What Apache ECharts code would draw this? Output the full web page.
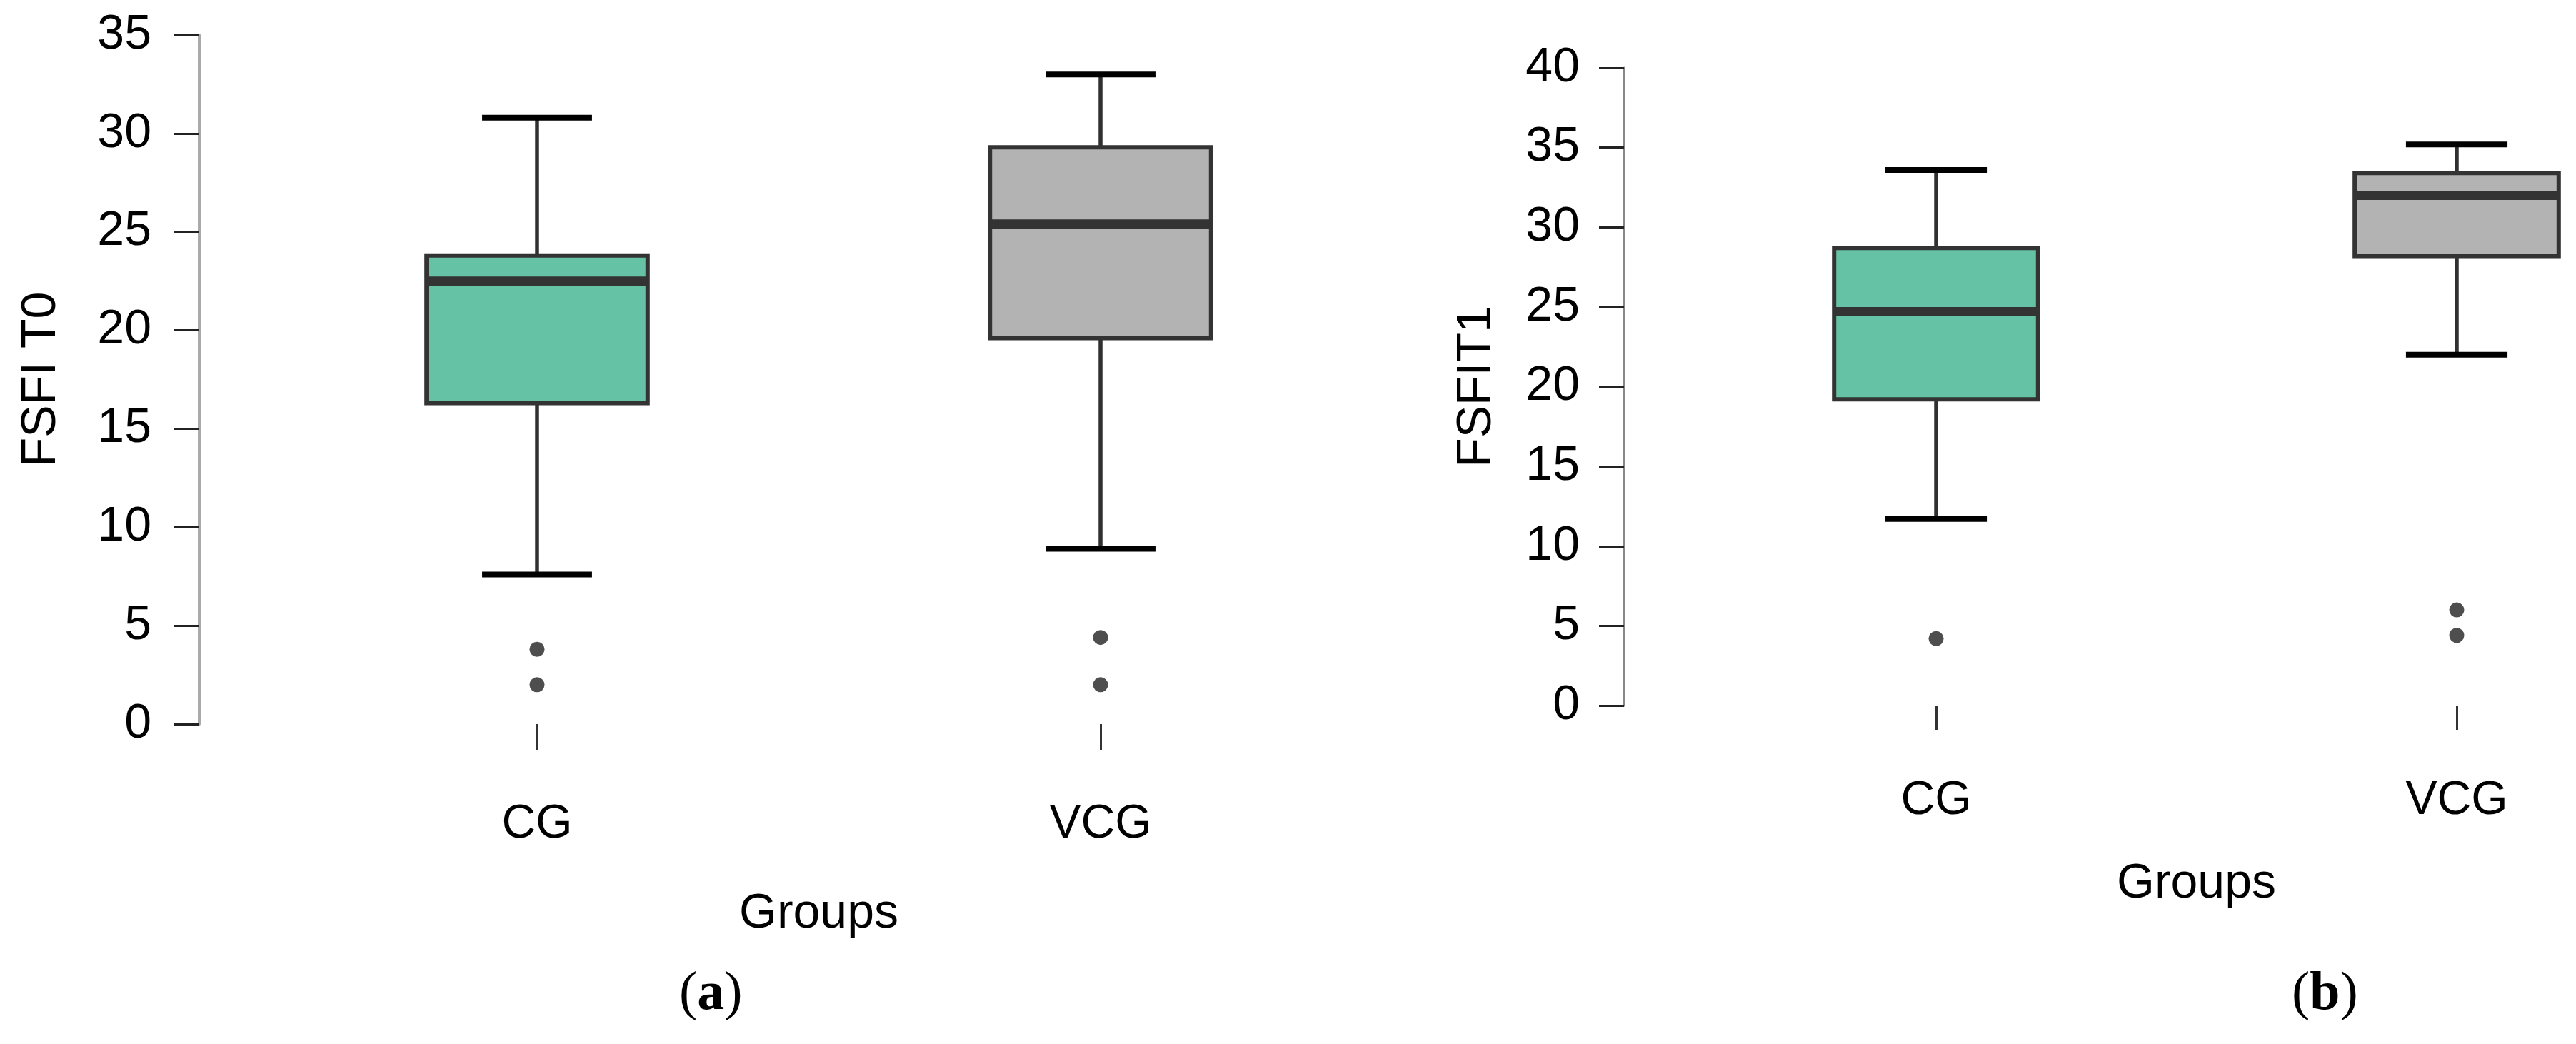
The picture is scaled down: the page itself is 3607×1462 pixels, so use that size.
<!DOCTYPE html>
<html>
<head>
<meta charset="utf-8">
<script src="https://cdn.jsdelivr.net/npm/echarts@6/dist/echarts.min.js"></script>
<style>
html,body{margin:0;padding:0;background:#fff;}
#chart{width:3607px;height:1462px;}
</style>
</head>
<body>
<div id="chart"></div>
<script>
// ---- data ----
const categories = ['CG', 'VCG'];
// [min whisker, Q1, median, Q3, max whisker]
const boxT0 = [
  [7.6, 16.3, 22.5, 23.8, 30.8],
  [8.9, 19.6, 25.4, 29.3, 33.0]
];
const outliersT0 = [
  ['CG', 3.8], ['CG', 2.0],
  ['VCG', 4.4], ['VCG', 2.0]
];
const boxT1 = [
  [11.7, 19.2, 24.7, 28.7, 33.6],
  [22.0, 28.2, 32.0, 33.4, 35.2]
];
const outliersT1 = [
  ['CG', 4.2],
  ['VCG', 6.0], ['VCG', 4.4]
];
const fillColors = ['#66C2A5', '#B3B3B3'];
const yTicksA = { min: 0, max: 35, interval: 5 };
const yTicksB = { min: 0, max: 40, interval: 5 };

const FONT = 'Liberation Sans, Arial, sans-serif';
const BOX_FRAC = 0.40;
const CAP_FRAC = 0.195;

function boxData(arr) {
  return arr.map((v, i) => [i].concat(v));
}

function renderBox(params, api) {
  const xi = api.value(0);
  const mn = api.value(1), q1 = api.value(2), med = api.value(3), q3 = api.value(4), mx = api.value(5);
  // distance between the two category centres
  const band = Math.abs(api.coord([1, 0])[0] - api.coord([0, 0])[0]);
  const bw = band * BOX_FRAC;
  const cw = band * CAP_FRAC;
  const pMin = api.coord([xi, mn]);
  const pQ1 = api.coord([xi, q1]);
  const pMed = api.coord([xi, med]);
  const pQ3 = api.coord([xi, q3]);
  const pMax = api.coord([xi, mx]);
  const cx = pMed[0];
  const lineStyle = { stroke: '#303030', lineWidth: 5.5 };
  return {
    type: 'group',
    children: [
      { type: 'line', shape: { x1: cx, y1: pQ3[1], x2: cx, y2: pMax[1] }, style: lineStyle },
      { type: 'line', shape: { x1: cx, y1: pQ1[1], x2: cx, y2: pMin[1] }, style: lineStyle },
      { type: 'rect', shape: { x: cx - bw / 2 + 3, y: pQ3[1], width: bw - 6, height: pQ1[1] - pQ3[1] },
        style: { fill: fillColors[xi], stroke: '#333333', lineWidth: 6 } },
      { type: 'line', shape: { x1: cx - bw / 2 + 3, y1: pMed[1], x2: cx + bw / 2 - 3, y2: pMed[1] },
        style: { stroke: '#333333', lineWidth: 13 } },
      { type: 'line', shape: { x1: cx - cw / 2, y1: pMax[1], x2: cx + cw / 2, y2: pMax[1] },
        style: { stroke: '#000000', lineWidth: 8 } },
      { type: 'line', shape: { x1: cx - cw / 2, y1: pMin[1], x2: cx + cw / 2, y2: pMin[1] },
        style: { stroke: '#000000', lineWidth: 8 } }
    ]
  };
}

function makeYAxis(gridIndex, ticks, name, offset, nameGap, lineColor, lineWidth, labelMargin) {
  return {
    type: 'value', gridIndex: gridIndex,
    min: ticks.min, max: ticks.max, interval: ticks.interval,
    offset: offset,
    name: name, nameLocation: 'middle', nameGap: nameGap,
    nameTextStyle: { fontFamily: FONT, fontSize: 68, color: '#000' },
    axisLine: { show: true, lineStyle: { color: lineColor, width: lineWidth } },
    axisTick: { show: true, length: 35, lineStyle: { color: '#222', width: 3 } },
    axisLabel: { fontFamily: FONT, fontSize: 68, color: '#000', margin: labelMargin },
    splitLine: { show: false }
  };
}

function makeXAxis(gridIndex, offset, tickLen, labelMargin, nameGap) {
  return {
    type: 'category', gridIndex: gridIndex, data: categories,
    boundaryGap: false,
    position: 'bottom', offset: offset,
    name: 'Groups', nameLocation: 'middle', nameGap: nameGap,
    nameTextStyle: { fontFamily: FONT, fontSize: 68, color: '#000' },
    axisLine: { show: false },
    axisTick: { show: true, length: tickLen, lineStyle: { color: '#333', width: 3 } },
    axisLabel: { fontFamily: FONT, fontSize: 66, color: '#000', margin: labelMargin },
    splitLine: { show: false }
  };
}

const chart = echarts.init(document.getElementById('chart'), null, { renderer: 'canvas' });
chart.setOption({
  backgroundColor: '#ffffff',
  animation: false,
  grid: [
    { left: 752, top: 49, width: 789, height: 965 },
    { left: 2711, top: 95, width: 729, height: 893 }
  ],
  xAxis: [
    makeXAxis(0, 47, 36, 61, 185),
    makeXAxis(1, 44, 34, 57, 172)
  ],
  yAxis: [
    makeYAxis(0, yTicksA, 'FSFI T0', 473, 187, '#aaaaaa', 4, 67),
    makeYAxis(1, yTicksB, 'FSFIT1', 437, 172, '#888888', 3, 62)
  ],
  series: [
    { type: 'custom', xAxisIndex: 0, yAxisIndex: 0, data: boxData(boxT0), renderItem: renderBox,
      clip: false, encode: { x: 0, y: [1, 2, 3, 4, 5] } },
    { type: 'scatter', xAxisIndex: 0, yAxisIndex: 0, data: outliersT0, symbolSize: 21,
      itemStyle: { color: '#222222' } },
    { type: 'custom', xAxisIndex: 1, yAxisIndex: 1, data: boxData(boxT1), renderItem: renderBox,
      clip: false, encode: { x: 0, y: [1, 2, 3, 4, 5] } },
    { type: 'scatter', xAxisIndex: 1, yAxisIndex: 1, data: outliersT1, symbolSize: 21,
      itemStyle: { color: '#222222' } }
  ],
  graphic: [
    { type: 'text', left: 1011 - 60, top: 1355, style: {
      text: '{p|(}{b|a}{p|)}', fill: '#000',
      rich: { p: { fontFamily: 'Liberation Serif, Times New Roman, serif', fontSize: 76 },
              b: { fontFamily: 'Liberation Serif, Times New Roman, serif', fontSize: 76, fontWeight: 'bold' } } } },
    { type: 'text', left: 3269 - 60, top: 1355, style: {
      text: '{p|(}{b|b}{p|)}', fill: '#000',
      rich: { p: { fontFamily: 'Liberation Serif, Times New Roman, serif', fontSize: 76 },
              b: { fontFamily: 'Liberation Serif, Times New Roman, serif', fontSize: 76, fontWeight: 'bold' } } } }
  ]
});
</script>
</body>
</html>
